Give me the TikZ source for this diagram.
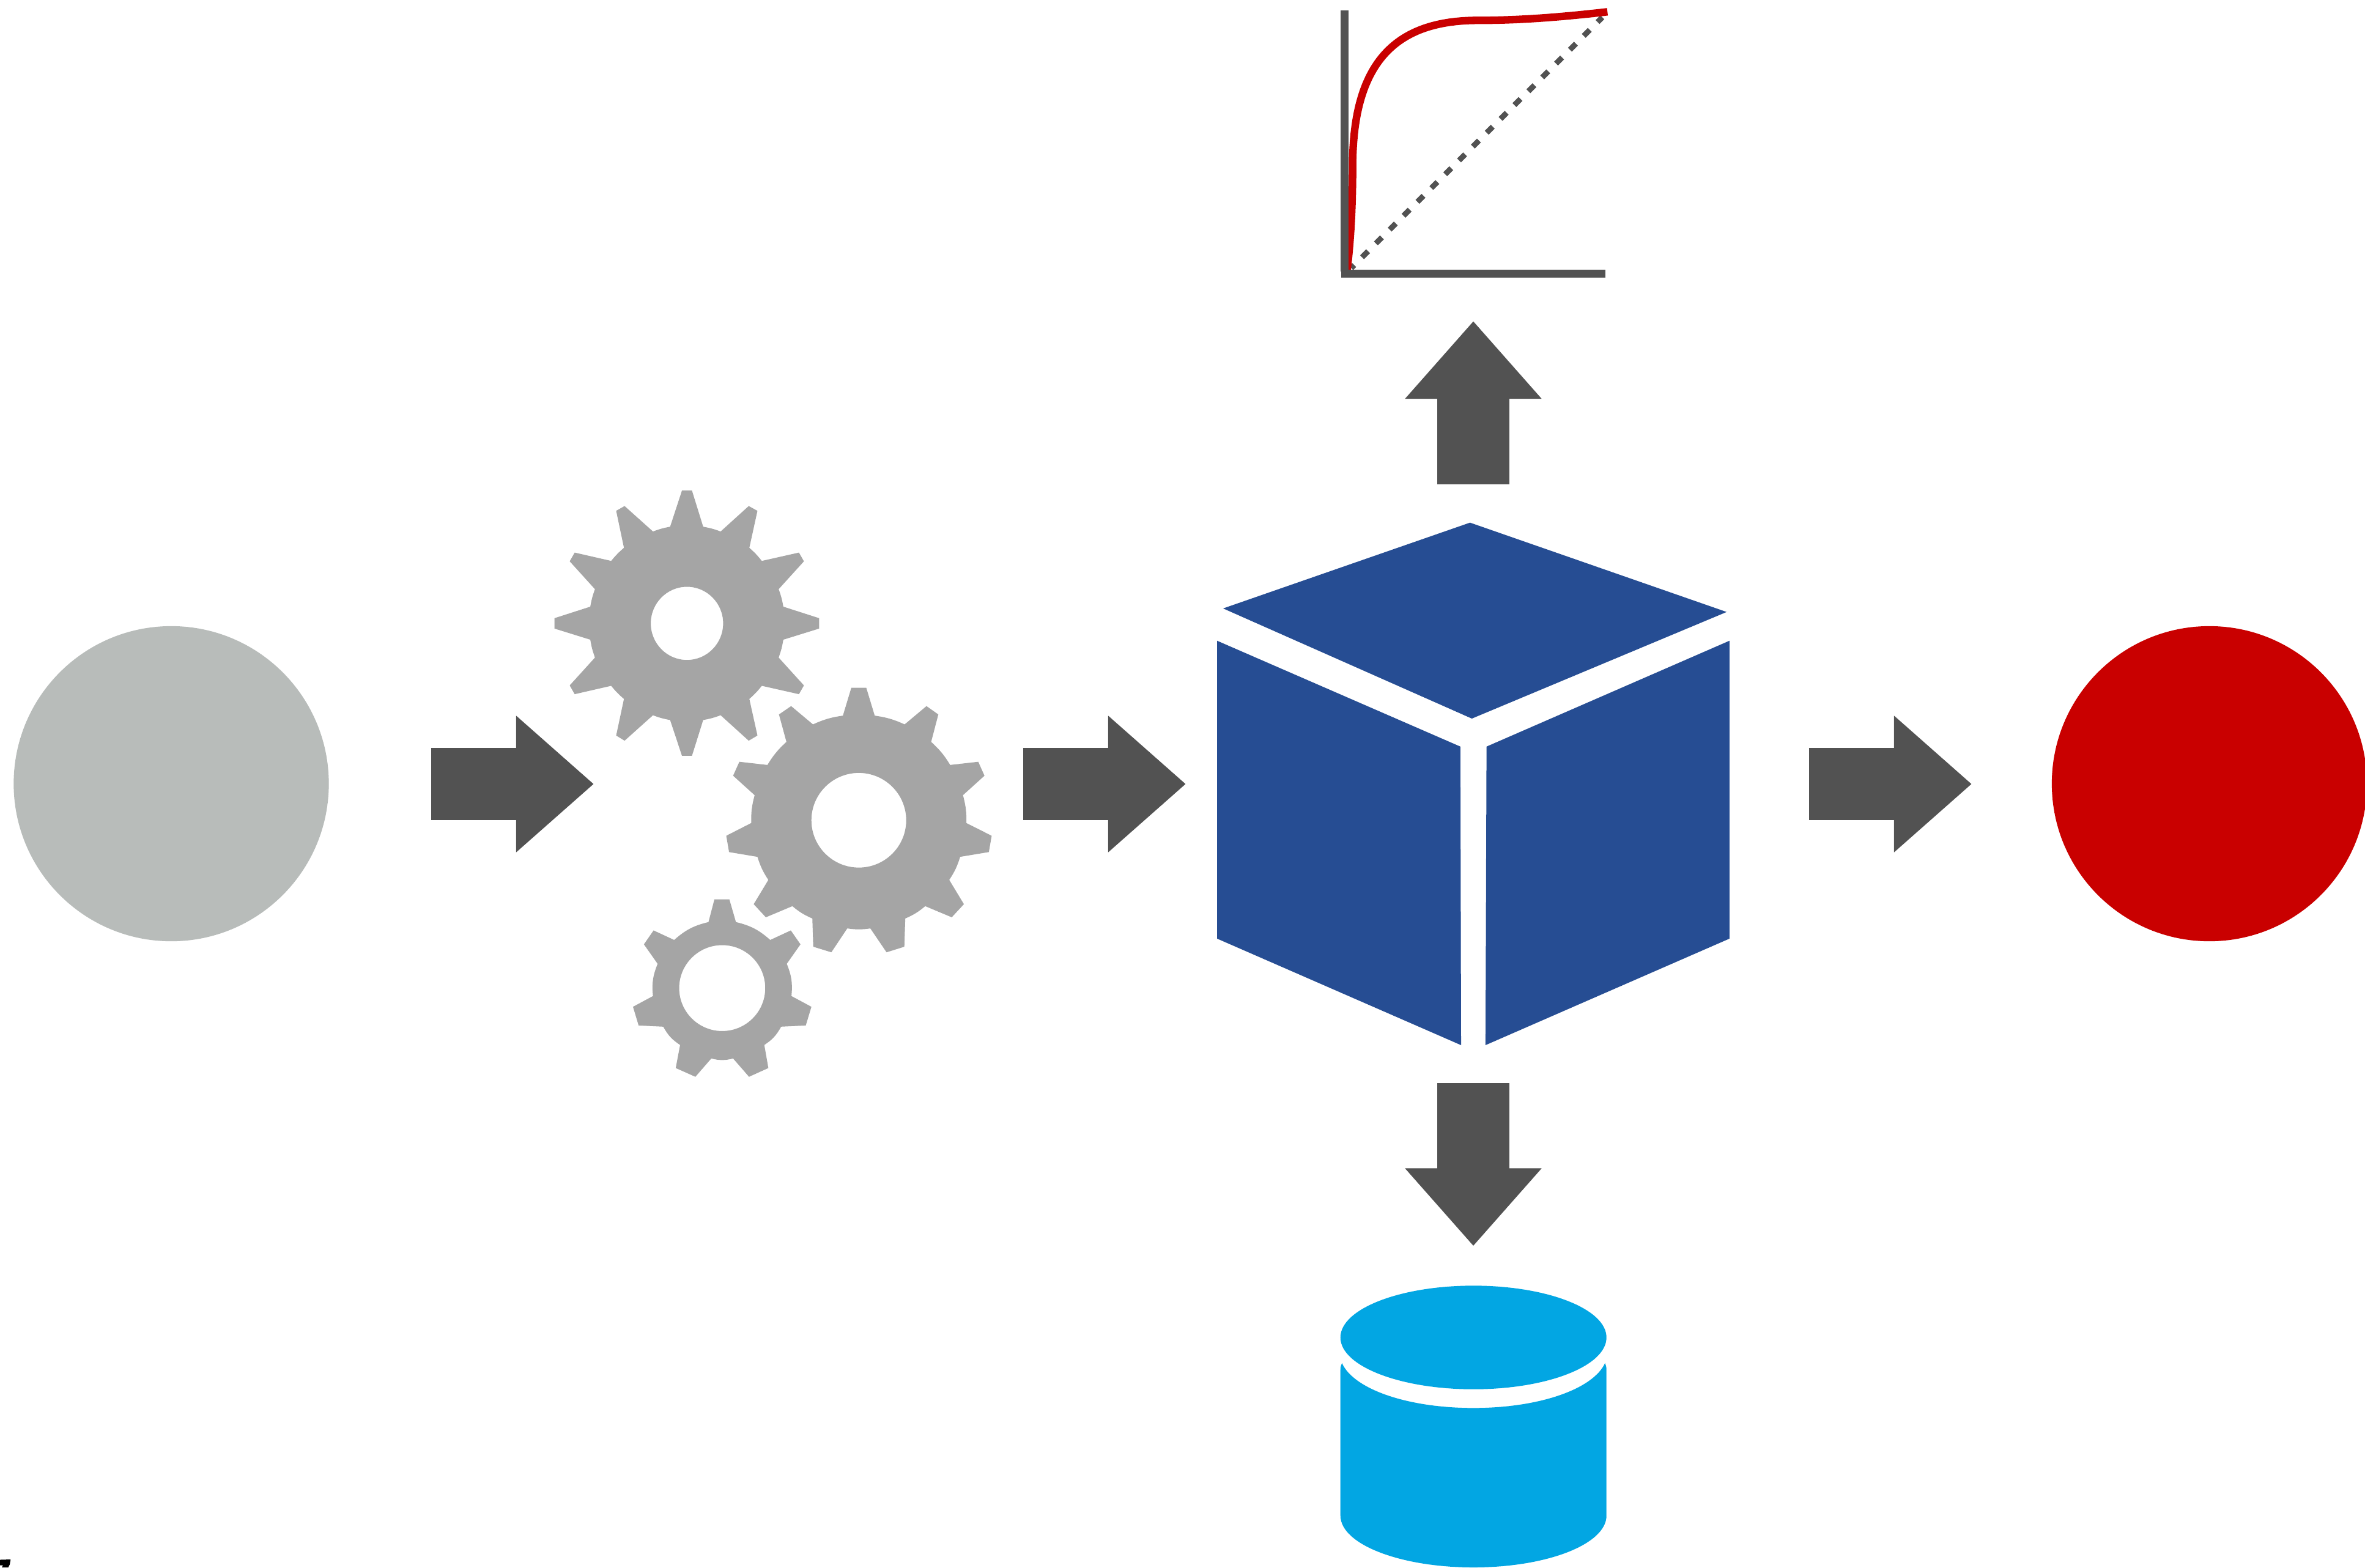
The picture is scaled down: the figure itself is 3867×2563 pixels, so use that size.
\documentclass[tikz,border=0pt]{standalone}
\usetikzlibrary{arrows.meta}
\definecolor{arrowgray}{HTML}{525252}
\definecolor{geargray}{HTML}{A5A5A5}
\definecolor{sourcegray}{HTML}{B8BCBA}
\definecolor{resultred}{HTML}{C90000}
\definecolor{cubeblue}{HTML}{264D93}
\definecolor{dbblue}{HTML}{02A6E3}
\tikzset{
  blockarrow/.style={draw=arrowgray,line width=1.18cm,line cap=butt,
    -{Triangle[length=1.27cm,width=2.15cm,fill=arrowgray]}},
  disc/.style={circle,inner sep=0pt,minimum size=5.15cm,draw=none},
  axisline/.style={draw=arrowgray,line width=0.13cm,line cap=butt},
  curveline/.style={draw=resultred,line width=0.123cm,line cap=butt},
  refline/.style={draw=arrowgray,line width=0.09cm,dash pattern=on 0.14cm off 0.18cm,dash phase=0.07cm},
  gearspace/.style={shift={(880,780)},x=0.0051020cm,y=-0.0065062cm},
  gearbody/.style={fill=geargray,even odd rule},
}
\begin{document}
\begin{tikzpicture}[x=0.01cm,y=-0.01cm]
\useasboundingbox (0,0) rectangle (3867,2563);
\fill[white] (0,0) rectangle (3867,2563);

% source and result
\node[disc,fill=sourcegray] (source) at (280,1281.5) {};
\node[disc,fill=resultred] (result) at (3612.5,1281.5) {};

% gears (coordinates in a local frame)
\begin{scope}[gearspace]
  \coordinate (gearA) at (477,368);
  \path[gearbody,every to/.style={bend left=5}]
    (461,34) -- (493,34) -- (529,125) to (585,137) -- (675,73) -- (703,85) -- (677,178) to (717,211)
    -- (836,190) -- (852,212) -- (771,282) to (786,326) -- (901,355) -- (901,381) -- (786,409) to (771,454)
    -- (852,524) -- (836,546) -- (717,525) to (677,558) -- (703,650) -- (675,663) -- (585,599) to (529,611)
    -- (493,701) -- (461,701) -- (423,611) to (368,599) -- (277,663) -- (250,650) -- (275,558) to (234,525)
    -- (117,546) -- (101,524) -- (182,454) to (167,409) -- (52,381) -- (52,355) -- (167,326) to (182,282)
    -- (101,212) -- (117,190) -- (234,211) to (275,178) -- (250,85) -- (277,73) -- (368,137) to (423,125) -- cycle
    (477,368) ellipse[x radius=116,y radius=92];
  \coordinate (gearB) at (1028,863);
  \path[gearbody,every to/.style={bend left=8}]
    (1004,530) -- (1052,530) -- (1079,600) to (1175,622) -- (1245,576) -- (1283,597) -- (1260,666) to (1321,724)
    -- (1411,716) -- (1431,751) -- (1362,800) to (1373,870) -- (1454,902) -- (1445,943) -- (1353,955) to (1318,1013)
    -- (1365,1074) -- (1326,1107) -- (1241,1079) to (1177,1110) -- (1174,1181) -- (1117,1195) -- (1065,1135) to (991,1135)
    -- (940,1195) -- (882,1181) -- (879,1110) to (815,1079) -- (730,1107) -- (691,1074) -- (738,1013) to (703,955)
    -- (612,943) -- (603,902) -- (683,870) to (694,800) -- (625,751) -- (645,716) -- (735,724) to (796,666)
    -- (772,597) -- (811,576) -- (881,622) to (977,600) -- cycle
    (1028,863) ellipse[x radius=152,y radius=119];
  \coordinate (gearC) at (590,1285);
  \path[gearbody,every to/.style={bend left=14}]
    (565,1062) -- (613,1062) -- (634,1119) to (744,1164) -- (810,1140) -- (841,1175) -- (797,1224) to (812,1305)
    -- (876,1332) -- (858,1379) -- (779,1382) to (725,1428) -- (738,1486) -- (676,1508) -- (625,1462) to (555,1462)
    -- (504,1508) -- (441,1486) -- (455,1428) to (401,1382) -- (322,1379) -- (304,1332) -- (368,1305) to (383,1224)
    -- (339,1175) -- (370,1140) -- (436,1164) to (546,1119) -- cycle
    (590,1285) ellipse[x radius=138,y radius=108];
\end{scope}

% cube
\fill[cubeblue] (1999.9,994.9) -- (2403.6,854.6) -- (2823.2,1000.7) -- (2406.6,1175) -- cycle;
\fill[cubeblue] (1990,1047.7) -- (2387.8,1220.8) -- (2389,1709) -- (1990,1534.8) -- cycle;
\fill[cubeblue] (2827.9,1047.7) -- (2430.6,1220.8) -- (2428.9,1709) -- (2827.9,1534.8) -- cycle;

% chart
\draw[refline] (2209.3,438.3) -- (2620,28.3);
\draw[curveline] (2202.7,440.7) .. controls (2208,397) and (2211.7,342) .. (2211.7,266.7)
  .. controls (2213.3,100) and (2283.3,33.3) .. (2416.7,33.3)
  .. controls (2483.3,33.3) and (2550,28.3) .. (2628.3,19.3);
\draw[axisline] (2198.3,17.3) -- (2198.3,444);
\draw[axisline] (2193.3,447.2) -- (2625,447.2);

% database
\fill[dbblue] (2409.2,2187) ellipse[x radius=217.5,y radius=84.7];
\fill[dbblue] (2191.7,2240) .. controls (2191.7,2235) and (2192.7,2232) .. (2194.3,2229)
  .. controls (2213,2271) and (2300,2302.3) .. (2409.2,2302.3)
  .. controls (2518,2302.3) and (2605,2271) .. (2624.3,2229)
  .. controls (2625.7,2232) and (2626.7,2235) .. (2626.7,2240)
  -- (2626.7,2478.3)
  .. controls (2626.7,2525) and (2529.3,2563) .. (2409.2,2563)
  .. controls (2289,2563) and (2191.7,2525) .. (2191.7,2478.3) -- cycle;

% connectors
\coordinate (a1s) at (704.7,1282);  \coordinate (a1e) at (971,1282);
\coordinate (a2s) at (1672.7,1282); \coordinate (a2e) at (1939,1282);
\coordinate (a3s) at (2957.5,1282); \coordinate (a3e) at (3224,1282);
\coordinate (a4s) at (2409,791.7); \coordinate (a4e) at (2409,525);
\coordinate (a5s) at (2409,1771); \coordinate (a5e) at (2409,2037.5);
\draw[blockarrow] (a1s) -- (a1e);
\draw[blockarrow] (a2s) -- (a2e);
\draw[blockarrow] (a3s) -- (a3e);
\draw[blockarrow] (a4s) -- (a4e);
\draw[blockarrow] (a5s) -- (a5e);

% corner mark
\fill[black] (0,2550.5) -- (17.3,2550) -- (16,2558) -- (13.5,2563) -- (3,2563) -- (5,2559.5) -- (0,2559.5) -- cycle;
\end{tikzpicture}
\end{document}
